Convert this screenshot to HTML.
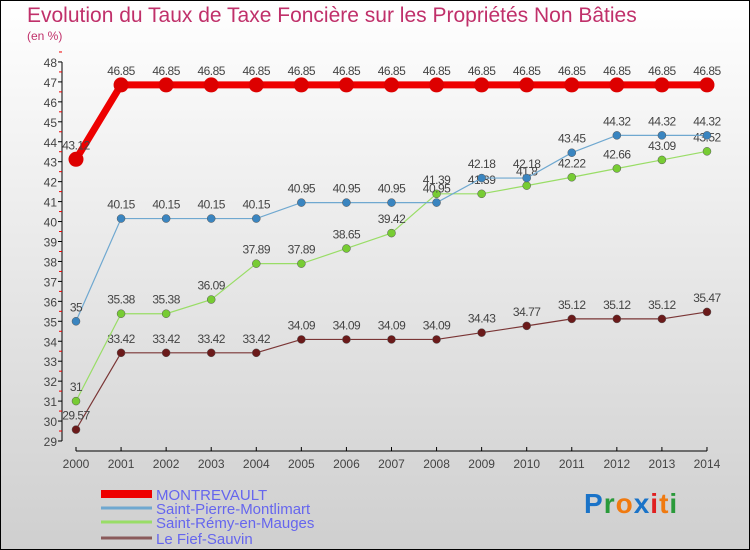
<!DOCTYPE html>
<html><head><meta charset="utf-8"><style>
body{margin:0}
#c{width:748px;height:548px;border:1px solid #000;background:linear-gradient(#ffffff,#cfcfcf);position:relative;font-family:"Liberation Sans",sans-serif;overflow:hidden}
.t{position:absolute;color:#c0306a}
</style></head><body>
<div id="c">
<div class="t" style="left:26px;top:3px;font-size:21px">Evolution du Taux de Taxe Foncière sur les Propriétés Non Bâties</div>
<div class="t" style="left:26px;top:28px;font-size:12px">(en %)</div>
<svg id="s" width="748" height="548" style="position:absolute;left:0;top:0"></svg>
<div style="position:absolute;left:583px;top:487px;font-size:28px;font-weight:bold;letter-spacing:1px"><span style="color:#1a73c8">P</span><span style="color:#2a9a3a">r</span><span style="color:#f07a10">o</span><span style="color:#1a73c8">x</span><span style="color:#e02020">i</span><span style="color:#f07a10">t</span><span style="color:#2a9a3a">i</span></div>
</div>
<script>
const years=[2000,2001,2002,2003,2004,2005,2006,2007,2008,2009,2010,2011,2012,2013,2014];
const montrevault=[43.12,46.85,46.85,46.85,46.85,46.85,46.85,46.85,46.85,46.85,46.85,46.85,46.85,46.85,46.85];
const saintPierre=[35,40.15,40.15,40.15,40.15,40.95,40.95,40.95,40.95,42.18,42.18,43.45,44.32,44.32,44.32];
const saintRemy=[31,35.38,35.38,36.09,37.89,37.89,38.65,39.42,41.39,41.39,41.8,42.22,42.66,43.09,43.52];
const fiefSauvin=[29.57,33.42,33.42,33.42,33.42,34.09,34.09,34.09,34.09,34.43,34.77,35.12,35.12,35.12,35.47];
const yTicks=[29,30,31,32,33,34,35,36,37,38,39,40,41,42,43,44,45,46,47,48];
const seriesNames=["MONTREVAULT","Saint-Pierre-Montlimart","Saint-Rémy-en-Mauges","Le Fief-Sauvin"];
const NS="http://www.w3.org/2000/svg",s=document.getElementById('s');
const x=i=>75+i*45.07, y=v=>440-(v-29)*19.95;
function el(t,a,txt){const e=document.createElementNS(NS,t);for(const k in a)e.setAttribute(k,a[k]);if(txt!==undefined)e.textContent=txt;s.appendChild(e);return e;}
let e=el('line',{x1:61,y1:y(48),x2:61,y2:y(29),stroke:'#000'});

yTicks.forEach(v=>{el('line',{x1:57,x2:61,y1:y(v),y2:y(v),stroke:'#000'});
el('line',{x1:58,x2:61,y1:y(v+0.5),y2:y(v+0.5),stroke:'#e00'});
const t=el('text',{x:56,y:y(v)+5,'font-size':12,'text-anchor':'end',fill:'#444'},v);
});
e=el('line',{x1:x(0),x2:x(14),y1:450,y2:450,stroke:'#000'});

years.forEach((yr,i)=>{el('line',{x1:x(i),x2:x(i),y1:446,y2:450,stroke:'#000'});
const t=el('text',{x:x(i),y:467,'font-size':12,'text-anchor':'middle',fill:'#444'},yr);
});
const defs=[[fiefSauvin,'#7a3535','#6b1a1a',1.2,4,'le-fief-sauvin'],[saintRemy,'#99dd66','#77cc33',1.2,4,'saint-remy-en-mauges'],[saintPierre,'#6fa8d0','#3a85c0',1.2,4,'saint-pierre-montlimart'],[montrevault,'#ee0000','#dd0000',7,7.5,'montrevault']];
defs.forEach(([d,lc,pc,w,r,n])=>{
const p=el('polyline',{points:d.map((v,i)=>x(i)+','+y(v)).join(' '),fill:'none',stroke:lc,'stroke-width':w});

d.forEach((v,i)=>{const c=el('circle',{cx:x(i),cy:y(v),r:r,fill:pc,stroke:'#555','stroke-width':w>3?0:0.5});

const t=el('text',{x:x(i),y:y(v)-10,'font-size':12,'text-anchor':'middle',fill:'#444','letter-spacing':'-0.5'},v);
});});
const lc=['#ee0000','#6fa8d0','#99dd66','#8a5a5a'],lw=[8,3,3,3],ly=[493,507,521,537];
seriesNames.forEach((n,i)=>{const l=el('line',{x1:100,x2:151,y1:ly[i],y2:ly[i],stroke:lc[i],'stroke-width':lw[i]});

const t=el('text',{x:155,y:ly[i]+6,'font-size':15,fill:'#6666ee'},n);
});
</script>
</body></html>
